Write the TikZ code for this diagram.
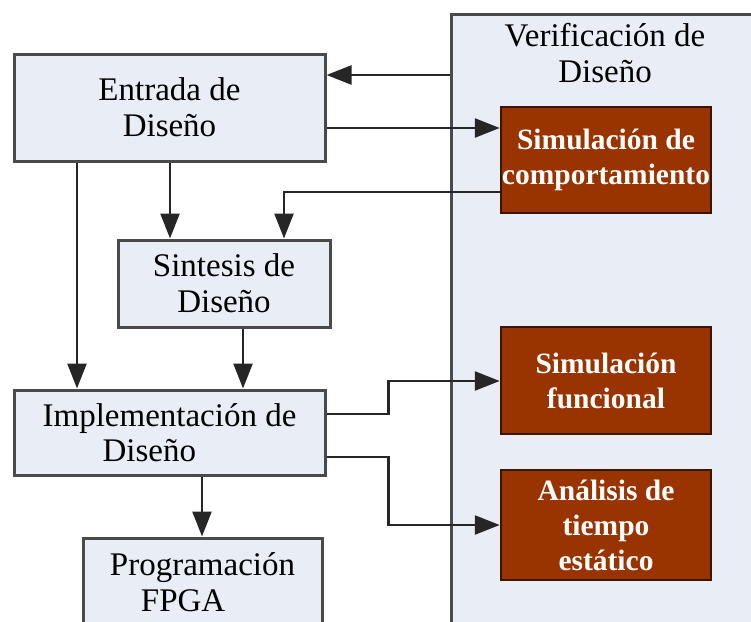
\documentclass[tikz,border=0pt]{standalone}
\usepackage{fontspec}
\setmainfont{Liberation Serif}
\newfontfamily\timesfont{Liberation Serif}
\usetikzlibrary{arrows.meta,positioning}
\definecolor{boxfill}{HTML}{E8EDF6}
\definecolor{simred}{HTML}{993300}
\definecolor{edgegray}{HTML}{4A4A4A}
\tikzset{
	stage/.style={draw=edgegray, line width=3pt, fill=boxfill, align=center, inner sep=0pt, font=\timesfont\fontsize{33}{35.6}\selectfont},
	simbox/.style={draw=black!60!simred, line width=2.5pt, fill=simred, text=white, align=center, inner sep=0pt, minimum width=210pt, minimum height=107pt, font=\timesfont\fontsize{29.5}{35}\selectfont\bfseries},
	flow/.style={draw=black!85, line width=2.5pt, -{Triangle[length=25pt,width=19pt]}},
}

\begin{document}
\begin{tikzpicture}[x=1pt,y=-1pt]
		\clip (0,0) rectangle (751,621);
		
		%Verificacion
		\node [stage, minimum width=310pt, minimum height=617pt, anchor=north west] (verif) at (450,13) {};
		\node [font=\timesfont\fontsize{33}{35.6}\selectfont, align=center] (veriftitle) at (605,53) {Verificación de\\Diseño};
		
		%Etapas
		\node [stage, minimum width=311pt, minimum height=107pt] (entrada) at (169.5,107.5) {Entrada de\\Diseño};
		\node [stage, minimum width=212pt, minimum height=87pt] (sintesis) at (224,283.5) {Sintesis de\\Diseño};
		\node [stage, minimum width=311pt, minimum height=85pt, align=left] (impl) at (169.5,432.5) {Implementación de\\\hspace*{60pt}Diseño};
		\node [stage, minimum width=239pt, minimum height=88pt, align=left] (prog) at (202.5,582) {Programación\\\hspace*{31pt}FPGA};
		
		%Simulaciones
		\node [simbox, minimum height=106pt] (simcomp) at (606,160) {Simulación de\\comportamiento};
		\node [simbox] (simfunc) at (606,380.5) {Simulación\\funcional};
		\node [simbox, minimum height=110pt] (analisis) at (606,525) {Análisis de\\tiempo\\estático};
		
		%Flechas
		\draw [flow] (verif.west |- 0,75) -- (entrada.east |- 0,75);
		\draw [flow] (entrada.east |- 0,128) -- (simcomp.west |- 0,128);
		\draw [flow] (entrada.south -| 170,0) -- (sintesis.north -| 170,0);
		\draw [flow] (simcomp.west |- 0,192) -| (sintesis.north -| 284,0);
		\draw [flow] (entrada.south -| 77,0) -- (impl.north -| 77,0);
		\draw [flow] (sintesis.south -| 243,0) -- (impl.north -| 243,0);
		\draw [flow] (impl.east |- 0,414) -- ++(62,0) |- (simfunc.west |- 0,381);
		\draw [flow] (impl.east |- 0,457) -- ++(62,0) |- (analisis.west);
		\draw [flow] (impl.south -| 202,0) -- (prog.north -| 202,0);
	\end{tikzpicture}
\end{document}
